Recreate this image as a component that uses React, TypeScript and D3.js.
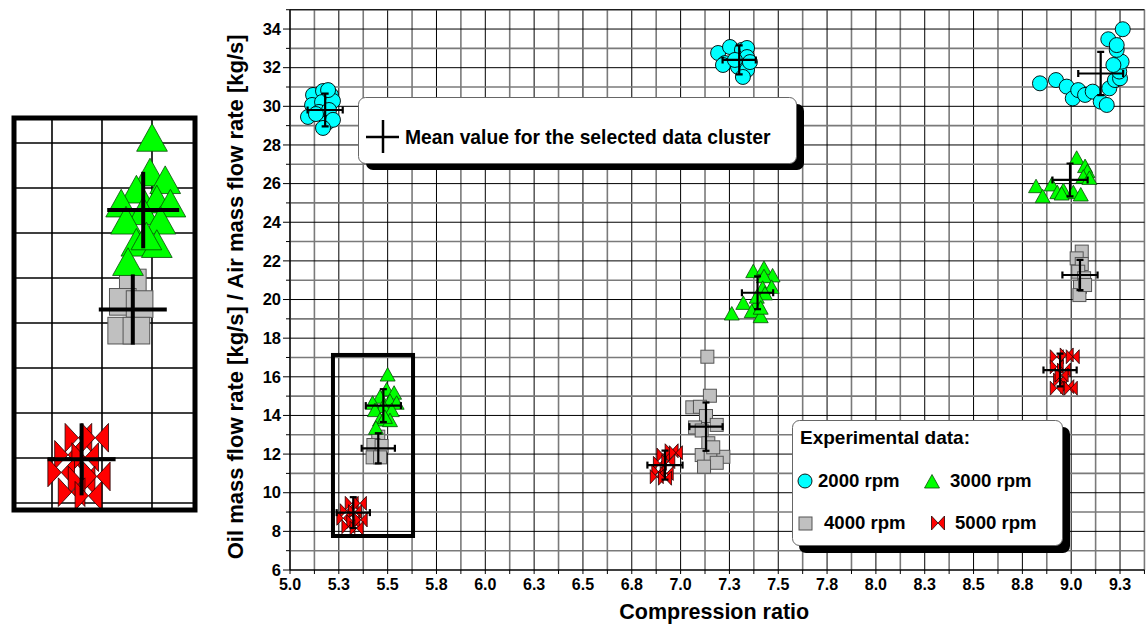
import React from "react";
import * as d3 from "d3";

// Measured samples: [compression ratio, oil/air mass flow ratio]
const rpm2000: [number, number][] = [
  [5.118, 30.59], [5.169, 30.79], [5.21, 30.59], [5.113, 30.07], [5.164, 30.22], [5.22, 30.28],
  [5.092, 29.45], [5.148, 29.71], [5.2, 29.81], [5.189, 29.14], [5.22, 29.3], [5.169, 28.88],
  [5.133, 29.6], [5.195, 30.84],
  [7.192, 32.76], [7.253, 33.07], [7.227, 32.24], [7.314, 32.92], [7.34, 33.02], [7.34, 32.55],
  [7.294, 32.04], [7.34, 31.88], [7.319, 31.52], [7.217, 32.14], [7.278, 32.4], [7.355, 32.29],
  [8.84, 31.19], [8.922, 31.36], [8.977, 31.02], [9.008, 30.41], [9.036, 30.84], [9.071, 30.59],
  [9.11, 30.76], [9.151, 30.24], [9.182, 30.07], [9.195, 30.93], [9.224, 31.36], [9.25, 31.45],
  [9.246, 31.8], [9.258, 32.31], [9.216, 32.14], [9.233, 32.92], [9.19, 33.47], [9.233, 33.17],
  [9.264, 33.99],
];

const rpm3000: [number, number][] = [
  [5.5, 16.09], [5.495, 15.32], [5.533, 15.15], [5.461, 14.94], [5.423, 14.63], [5.512, 14.72],
  [5.546, 14.63], [5.478, 14.46], [5.435, 14.25], [5.521, 14.25], [5.461, 13.76], [5.512, 13.73],
  [5.486, 13.9], [5.44, 13.33],
  [7.372, 21.44], [7.427, 21.61], [7.471, 21.22], [7.427, 21.18], [7.42, 20.58], [7.466, 20.63],
  [7.432, 20.29], [7.321, 19.8], [7.393, 19.8], [7.364, 19.37], [7.41, 19.11], [7.262, 19.25],
  [7.39, 20.12], [7.41, 19.55],
  [9.028, 27.31], [9.071, 26.88], [9.083, 26.62], [9.062, 26.33], [9.093, 26.27], [8.9, 25.93],
  [8.82, 25.84], [8.96, 25.64], [8.929, 25.53], [9.011, 25.53], [9.049, 25.41], [8.854, 25.32],
  [8.951, 25.46],
];

const rpm4000: [number, number][] = [
  [5.452, 12.9], [5.427, 12.47], [5.469, 12.42], [5.423, 11.83], [5.461, 11.83],
  [7.137, 17.04], [7.15, 15.02], [7.06, 14.42], [7.099, 14.45], [7.13, 13.97], [7.074, 13.38],
  [7.185, 13.51], [7.108, 13.22], [7.142, 12.56], [7.108, 11.95], [7.154, 11.83], [7.219, 11.86],
  [7.185, 11.55], [7.12, 11.35], [7.167, 12.35],
  [9.054, 22.48], [9.028, 22.13], [9.054, 21.84], [9.036, 21.44], [9.066, 21.1], [9.045, 20.66],
  [9.042, 20.23], [9.071, 20.75],
];

const rpm5000: [number, number][] = [
  [5.316, 9.45], [5.358, 9.45], [5.29, 9.07], [5.333, 9.02], [5.273, 8.68], [5.324, 8.5],
  [5.362, 8.59], [5.299, 8.24], [5.341, 8.16],
  [6.912, 11.95], [6.954, 12.17], [6.976, 12.07], [6.894, 11.52], [6.937, 11.61], [6.886, 11.09],
  [6.929, 11.0], [6.878, 10.83], [6.92, 10.75],
  [8.926, 17.04], [8.977, 17.13], [9.008, 17.04], [8.926, 16.52], [8.963, 16.35], [8.943, 15.83],
  [8.98, 15.49], [8.926, 15.41], [8.998, 15.41], [8.951, 16.09],
];

// Cluster means with their spread: [x, y, half-width x, half-height y]
const clusterMeans: [number, number, number, number][] = [
  [5.18, 29.81, 0.09, 0.85], [7.3, 32.4, 0.085, 0.75], [9.151, 31.7, 0.115, 1.12],
  [5.478, 14.51, 0.09, 0.85], [7.394, 20.35, 0.08, 0.85], [8.994, 26.19, 0.09, 0.85],
  [5.452, 12.3, 0.085, 0.78], [7.13, 13.42, 0.085, 1.25], [9.045, 21.27, 0.09, 0.78],
  [5.324, 8.97, 0.085, 0.8], [6.92, 11.43, 0.09, 0.75], [8.943, 16.35, 0.085, 0.85],
];

const xTicks = [5.0, 5.25, 5.5, 5.75, 6.0, 6.25, 6.5, 6.75, 7.0, 7.25, 7.5, 7.75, 8.0, 8.25, 8.5, 8.75, 9.0, 9.25];
const xTickLabels = ["5.0", "5.3", "5.5", "5.8", "6.0", "6.3", "6.5", "6.8", "7.0", "7.3", "7.5", "7.8", "8.0", "8.3", "8.5", "8.8", "9.0", "9.3"];
const yTicks = [6, 8, 10, 12, 14, 16, 18, 20, 22, 24, 26, 28, 30, 32, 34];
const yTickLabels = ["6", "8", "10", "12", "14", "16", "18", "20", "22", "24", "26", "28", "30", "32", "34"];

// Selected-cluster frame (data units) and the domain of its enlarged view
const selection = { x0: 5.22, x1: 5.63, y0: 7.76, y1: 17.13 };
const zoomDomainX: [number, number] = [5.15, 5.6125];
const zoomDomainY: [number, number] = [7.8, 16.6];

const FONT = "'Liberation Sans', Arial, sans-serif";

const W = 1146;
const H = 624;

const x = d3.scaleLinear().domain([5, 9.375]).range([290, 290 + 4.375 * 195.3]);
const y = d3.scaleLinear().domain([6, 35]).range([570, 570 - 29 * 19.32]);

const xi = d3.scaleLinear().domain(zoomDomainX).range([12, 197]);
const yi = d3.scaleLinear().domain(zoomDomainY).range([512, 116]);

const trianglePath = "M0,-7.5L7.5,6L-7.5,6Z";
const bowtiePath = "M-6.5,-7L0,0L-6.5,7Z M6.5,-7L0,0L6.5,7Z";

type Sc = d3.ScaleLinear<number, number>;

function Markers({ xs, ys, k }: { xs: Sc; ys: Sc; k: number }) {
  const sw = 1 / k;
  return (
    <g>
      {rpm2000.map((d, i) => (
        <circle key={"c" + i} transform={`translate(${xs(d[0])},${ys(d[1])}) scale(${k})`} r={7.5}
          fill="#00FFFF" stroke="#000" strokeWidth={0.9 * sw} />
      ))}
      {rpm4000.map((d, i) => (
        <rect key={"s" + i} transform={`translate(${xs(d[0])},${ys(d[1])}) scale(${k})`} x={-6.5} y={-6.5}
          width={13} height={13} fill="#C0C0C0" stroke="#555" strokeWidth={1 * sw} />
      ))}
      {rpm3000.map((d, i) => (
        <path key={"t" + i} transform={`translate(${xs(d[0])},${ys(d[1])}) scale(${k})`} d={trianglePath}
          fill="#00FF00" stroke="#0A4A0A" strokeWidth={0.8 * sw} />
      ))}
      {rpm5000.map((d, i) => (
        <path key={"b" + i} transform={`translate(${xs(d[0])},${ys(d[1])}) scale(${k})`} d={bowtiePath}
          fill="#FF0000" stroke="#200" strokeWidth={0.8 * sw} />
      ))}
    </g>
  );
}

function MeanCrosses({ xs, ys, sw, cap }: { xs: Sc; ys: Sc; sw: number; cap: number }) {
  return (
    <g stroke="#000" strokeWidth={sw} fill="none">
      {clusterMeans.map(([mx, my, ex, ey], i) => {
        const cx = xs(mx), cy = ys(my);
        const xa = xs(mx - ex), xb = xs(mx + ex);
        const ya = ys(my + ey), yb = ys(my - ey);
        return (
          <g key={i}>
            <line x1={xa} x2={xb} y1={cy} y2={cy} />
            <line x1={cx} x2={cx} y1={ya} y2={yb} />
            <line x1={xa} x2={xa} y1={cy - cap} y2={cy + cap} />
            <line x1={xb} x2={xb} y1={cy - cap} y2={cy + cap} />
            <line x1={cx - cap} x2={cx + cap} y1={ya} y2={ya} />
            <line x1={cx - cap} x2={cx + cap} y1={yb} y2={yb} />
          </g>
        );
      })}
    </g>
  );
}

export default function App() {
  const [xMin, xMax] = x.domain();
  const [yMin, yMax] = y.domain();
  const xGrid = d3.range(0, Math.round((xMax - xMin) / 0.125) + 1).map((i) => xMin + i * 0.125);
  const yGrid = d3.range(yMin, yMax + 1, 1);
  const left = x(xMin), right = x(xMax), top = y(yMax), bottom = y(yMin);

  const ixGrid = xGrid.filter((v) => v > zoomDomainX[0] && v < zoomDomainX[1]);
  const iyGrid = yGrid.filter((v) => v > zoomDomainY[0] && v < zoomDomainY[1]);

  return (
    <svg width={W} height={H} viewBox={`0 0 ${W} ${H}`}
      style={{ position: "fixed", left: 0, top: 0, background: "#fff", fontFamily: FONT }}>
      <defs>
        <clipPath id="plotClip">
          <rect x={left} y={top} width={right - left} height={bottom - top} />
        </clipPath>
        <clipPath id="zoomClip">
          <rect x={12} y={116} width={185} height={396} />
        </clipPath>
        <filter id="soft" x="-5%" y="-5%" width="110%" height="110%">
          <feGaussianBlur stdDeviation={0.55} />
        </filter>
      </defs>

      {/* grid */}
      <g>
        {xGrid.map((v, i) => {
          const major = Math.abs(v * 4 - Math.round(v * 4)) < 1e-6;
          return (
            <line key={"gx" + i} x1={x(v)} x2={x(v)} y1={top} y2={bottom}
              stroke={major ? "#000" : "#7a7a7a"} strokeWidth={major ? 1 : 1.6} />
          );
        })}
        {yGrid.map((v, i) => {
          const major = v % 2 === 0;
          return (
            <line key={"gy" + i} x1={left} x2={right} y1={y(v)} y2={y(v)}
              stroke={major ? "#000" : "#7a7a7a"} strokeWidth={major ? 1 : 1.6} />
          );
        })}
        <line x1={left} x2={right} y1={top} y2={top} stroke="#000" strokeWidth={1} />
      </g>

      {/* axes */}
      <g stroke="#000">
        <line x1={left} x2={left} y1={top} y2={bottom} strokeWidth={1.2} />
        <line x1={left} x2={right} y1={bottom} y2={bottom} strokeWidth={1.2} />
        {yGrid.map((v, i) => (
          <line key={"ty" + i} x1={left - (v % 2 === 0 ? 7 : 4)} x2={left} y1={y(v)} y2={y(v)} strokeWidth={1} />
        ))}
        {xGrid.map((v, i) => (
          <line key={"tx" + i} x1={x(v)} x2={x(v)} y1={bottom} y2={bottom + 4} strokeWidth={1} />
        ))}
      </g>
      <g fontWeight="bold" fontSize={16.5} fill="#000">
        {yTicks.map((v, i) => (
          <text key={"ly" + i} x={left - 9} y={y(v)} dy="0.35em" textAnchor="end">{yTickLabels[i]}</text>
        ))}
      </g>
      <g fontWeight="bold" fontSize={16} fill="#000">
        {xTicks.map((v, i) => (
          <text key={"lx" + i} x={x(v)} y={bottom + 20} textAnchor="middle">{xTickLabels[i]}</text>
        ))}
      </g>
      <text x={(left + right) / 2 - 3} y={619} textAnchor="middle" fontWeight="bold" fontSize={21.5}>
        Compression ratio
      </text>
      <text transform={`translate(243,${(top + bottom) / 2 + 7}) rotate(-90)`} textAnchor="middle"
        fontWeight="bold" fontSize={22}>
        Oil mass flow rate [kg/s] / Air mass flow rate [kg/s]
      </text>

      {/* data */}
      <g clipPath="url(#plotClip)">
        <Markers xs={x} ys={y} k={1} />
        <MeanCrosses xs={x} ys={y} sw={2.2} cap={3.5} />
      </g>

      {/* selected cluster frame */}
      <rect x={x(selection.x0)} y={y(selection.y1)} width={x(selection.x1) - x(selection.x0)}
        height={y(selection.y0) - y(selection.y1)} fill="none" stroke="#000" strokeWidth={4} />

      {/* enlarged view of the selected clusters */}
      <g filter="url(#soft)">
        <rect x={12} y={116} width={185} height={396} fill="#fff" />
        <g clipPath="url(#zoomClip)">
          {ixGrid.map((v, i) => (
            <line key={"ix" + i} x1={xi(v)} x2={xi(v)} y1={116} y2={512} stroke="#000" strokeWidth={1.6} />
          ))}
          {iyGrid.map((v, i) => (
            <line key={"iy" + i} x1={12} x2={197} y1={yi(v)} y2={yi(v)} stroke="#000" strokeWidth={1.6} />
          ))}
          <Markers xs={xi} ys={yi} k={2.05} />
          <MeanCrosses xs={xi} ys={yi} sw={4} cap={0} />
        </g>
        <rect x={14} y={118} width={181} height={392} fill="none" stroke="#000" strokeWidth={5} />
      </g>

      {/* mean value legend */}
      <g>
        <rect x={366} y={104} width={438} height={66} rx={7} fill="#000" />
        <rect x={358.5} y={97.5} width={438} height={66} rx={7} fill="#fff" stroke="#666" strokeWidth={1} />
        <line x1={366} x2={399} y1={137} y2={137} stroke="#000" strokeWidth={2.5} />
        <line x1={383} x2={383} y1={120} y2={153} stroke="#000" strokeWidth={2.5} />
        <text x={405} y={144} fontWeight="bold" fontSize={19.3}>Mean value for the selected data cluster</text>
      </g>

      {/* experimental data legend */}
      <g>
        <rect x={799} y={427} width={271} height={126} rx={7} fill="#000" />
        <rect x={792.5} y={420.5} width={270} height={125} rx={7} fill="#fff" stroke="#666" strokeWidth={1} />
        <text x={800} y={444} fontWeight="bold" fontSize={19}>Experimental data:</text>
        <circle cx={805} cy={481} r={7} fill="#00FFFF" stroke="#000" strokeWidth={0.9} />
        <text x={818} y={487} fontWeight="bold" fontSize={18.6}>2000 rpm</text>
        <path transform="translate(932,482)" d={trianglePath} fill="#00FF00" stroke="#0A4A0A" strokeWidth={0.8} />
        <text x={950} y={487} fontWeight="bold" fontSize={18.6}>3000 rpm</text>
        <rect x={799} y={517} width={13} height={13} fill="#C0C0C0" stroke="#555" strokeWidth={1} />
        <text x={824} y={529} fontWeight="bold" fontSize={18.6}>4000 rpm</text>
        <path transform="translate(938,523)" d={bowtiePath} fill="#FF0000" stroke="#200" strokeWidth={0.8} />
        <text x={955} y={529} fontWeight="bold" fontSize={18.6}>5000 rpm</text>
      </g>
    </svg>
  );
}
